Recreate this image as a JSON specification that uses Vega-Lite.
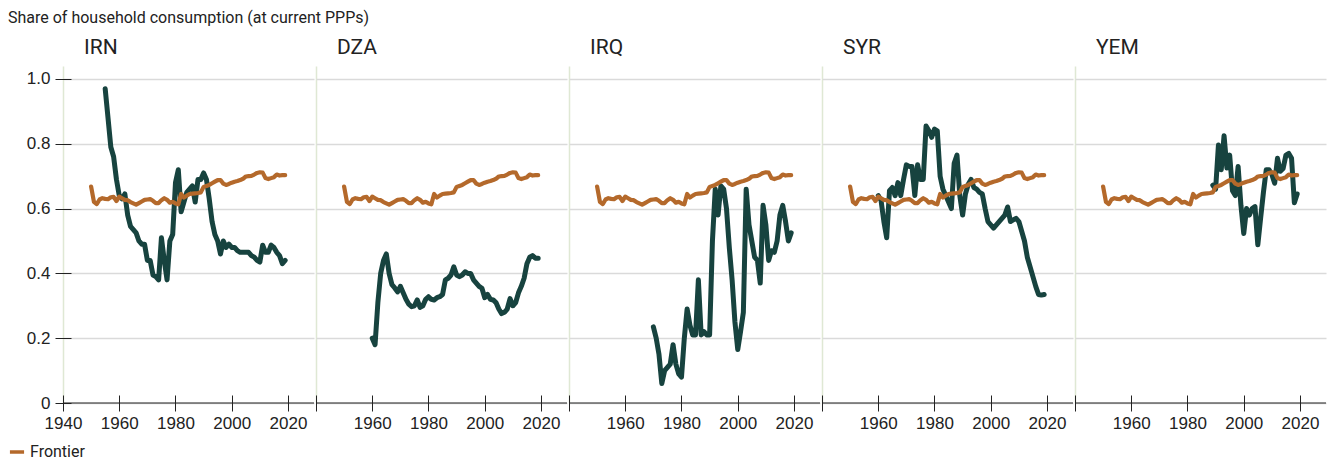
{
  "$schema": "https://vega.github.io/schema/vega-lite/v6.json",
  "background": "white",
  "padding": {"left": 8, "top": 10, "right": 0, "bottom": 0},
  "title": {"text": "Share of household consumption (at current PPPs)", "anchor": "start", "frame": "bounds", "font": "Roboto", "fontSize": 16, "fontWeight": "normal", "color": "#222", "dx": 0, "offset": -2, "baseline": "alphabetic"},
  "datasets": {
    "frontier": [
      {"year":1950,"v":0.668},{"year":1951,"v":0.621},{"year":1952,"v":0.614},{"year":1953,"v":0.628},{"year":1954,"v":0.632},
      {"year":1955,"v":0.630},{"year":1956,"v":0.629},{"year":1957,"v":0.635},{"year":1958,"v":0.636},{"year":1959,"v":0.623},
      {"year":1960,"v":0.637},{"year":1961,"v":0.632},{"year":1962,"v":0.627},{"year":1963,"v":0.626},{"year":1964,"v":0.620},
      {"year":1965,"v":0.616},{"year":1966,"v":0.612},{"year":1967,"v":0.617},{"year":1968,"v":0.622},{"year":1969,"v":0.627},
      {"year":1970,"v":0.628},{"year":1971,"v":0.629},{"year":1972,"v":0.624},{"year":1973,"v":0.617},{"year":1974,"v":0.617},
      {"year":1975,"v":0.626},{"year":1976,"v":0.632},{"year":1977,"v":0.627},{"year":1978,"v":0.618},{"year":1979,"v":0.621},
      {"year":1980,"v":0.616},{"year":1981,"v":0.613},{"year":1982,"v":0.645},{"year":1983,"v":0.634},{"year":1984,"v":0.640},
      {"year":1985,"v":0.645},{"year":1986,"v":0.646},{"year":1987,"v":0.647},{"year":1988,"v":0.648},{"year":1989,"v":0.650},
      {"year":1990,"v":0.667},{"year":1991,"v":0.670},{"year":1992,"v":0.673},{"year":1993,"v":0.678},{"year":1994,"v":0.683},
      {"year":1995,"v":0.688},{"year":1996,"v":0.688},{"year":1997,"v":0.677},{"year":1998,"v":0.673},{"year":1999,"v":0.676},
      {"year":2000,"v":0.680},{"year":2001,"v":0.683},{"year":2002,"v":0.685},{"year":2003,"v":0.688},{"year":2004,"v":0.692},
      {"year":2005,"v":0.699},{"year":2006,"v":0.700},{"year":2007,"v":0.701},{"year":2008,"v":0.705},{"year":2009,"v":0.710},
      {"year":2010,"v":0.712},{"year":2011,"v":0.711},{"year":2012,"v":0.694},{"year":2013,"v":0.691},{"year":2014,"v":0.694},
      {"year":2015,"v":0.697},{"year":2016,"v":0.705},{"year":2017,"v":0.702},{"year":2018,"v":0.703},{"year":2019,"v":0.703}
    ],
    "country": [
      {"c":"IRN","year":1955,"v":0.97},{"c":"IRN","year":1956,"v":0.88},{"c":"IRN","year":1957,"v":0.79},{"c":"IRN","year":1958,"v":0.76},{"c":"IRN","year":1959,"v":0.69},
      {"c":"IRN","year":1960,"v":0.64},{"c":"IRN","year":1961,"v":0.63},{"c":"IRN","year":1962,"v":0.645},{"c":"IRN","year":1963,"v":0.58},{"c":"IRN","year":1964,"v":0.545},
      {"c":"IRN","year":1965,"v":0.535},{"c":"IRN","year":1966,"v":0.525},{"c":"IRN","year":1967,"v":0.50},{"c":"IRN","year":1968,"v":0.49},{"c":"IRN","year":1969,"v":0.49},
      {"c":"IRN","year":1970,"v":0.44},{"c":"IRN","year":1971,"v":0.44},{"c":"IRN","year":1972,"v":0.395},{"c":"IRN","year":1973,"v":0.39},{"c":"IRN","year":1974,"v":0.38},
      {"c":"IRN","year":1975,"v":0.51},{"c":"IRN","year":1976,"v":0.44},{"c":"IRN","year":1977,"v":0.38},{"c":"IRN","year":1978,"v":0.50},{"c":"IRN","year":1979,"v":0.52},
      {"c":"IRN","year":1980,"v":0.68},{"c":"IRN","year":1981,"v":0.72},{"c":"IRN","year":1982,"v":0.59},{"c":"IRN","year":1983,"v":0.62},{"c":"IRN","year":1984,"v":0.65},
      {"c":"IRN","year":1985,"v":0.66},{"c":"IRN","year":1986,"v":0.67},{"c":"IRN","year":1987,"v":0.62},{"c":"IRN","year":1988,"v":0.69},{"c":"IRN","year":1989,"v":0.69},
      {"c":"IRN","year":1990,"v":0.71},{"c":"IRN","year":1991,"v":0.69},{"c":"IRN","year":1992,"v":0.63},{"c":"IRN","year":1993,"v":0.56},{"c":"IRN","year":1994,"v":0.52},
      {"c":"IRN","year":1995,"v":0.50},{"c":"IRN","year":1996,"v":0.46},{"c":"IRN","year":1997,"v":0.50},{"c":"IRN","year":1998,"v":0.48},{"c":"IRN","year":1999,"v":0.49},
      {"c":"IRN","year":2000,"v":0.48},{"c":"IRN","year":2001,"v":0.48},{"c":"IRN","year":2002,"v":0.47},{"c":"IRN","year":2003,"v":0.465},{"c":"IRN","year":2004,"v":0.465},
      {"c":"IRN","year":2005,"v":0.465},{"c":"IRN","year":2006,"v":0.465},{"c":"IRN","year":2007,"v":0.455},{"c":"IRN","year":2008,"v":0.45},{"c":"IRN","year":2009,"v":0.44},
      {"c":"IRN","year":2010,"v":0.435},{"c":"IRN","year":2011,"v":0.487},{"c":"IRN","year":2012,"v":0.465},{"c":"IRN","year":2013,"v":0.465},{"c":"IRN","year":2014,"v":0.487},
      {"c":"IRN","year":2015,"v":0.48},{"c":"IRN","year":2016,"v":0.465},{"c":"IRN","year":2017,"v":0.455},{"c":"IRN","year":2018,"v":0.43},{"c":"IRN","year":2019,"v":0.44},

      {"c":"DZA","year":1960,"v":0.20},{"c":"DZA","year":1961,"v":0.18},{"c":"DZA","year":1962,"v":0.31},{"c":"DZA","year":1963,"v":0.40},{"c":"DZA","year":1964,"v":0.44},
      {"c":"DZA","year":1965,"v":0.46},{"c":"DZA","year":1966,"v":0.40},{"c":"DZA","year":1967,"v":0.365},{"c":"DZA","year":1968,"v":0.355},{"c":"DZA","year":1969,"v":0.343},
      {"c":"DZA","year":1970,"v":0.36},{"c":"DZA","year":1971,"v":0.34},{"c":"DZA","year":1972,"v":0.32},{"c":"DZA","year":1973,"v":0.305},{"c":"DZA","year":1974,"v":0.297},
      {"c":"DZA","year":1975,"v":0.30},{"c":"DZA","year":1976,"v":0.318},{"c":"DZA","year":1977,"v":0.295},{"c":"DZA","year":1978,"v":0.30},{"c":"DZA","year":1979,"v":0.32},
      {"c":"DZA","year":1980,"v":0.328},{"c":"DZA","year":1981,"v":0.32},{"c":"DZA","year":1982,"v":0.318},{"c":"DZA","year":1983,"v":0.325},{"c":"DZA","year":1984,"v":0.328},
      {"c":"DZA","year":1985,"v":0.335},{"c":"DZA","year":1986,"v":0.38},{"c":"DZA","year":1987,"v":0.385},{"c":"DZA","year":1988,"v":0.395},{"c":"DZA","year":1989,"v":0.42},
      {"c":"DZA","year":1990,"v":0.395},{"c":"DZA","year":1991,"v":0.39},{"c":"DZA","year":1992,"v":0.395},{"c":"DZA","year":1993,"v":0.405},{"c":"DZA","year":1994,"v":0.40},
      {"c":"DZA","year":1995,"v":0.40},{"c":"DZA","year":1996,"v":0.38},{"c":"DZA","year":1997,"v":0.37},{"c":"DZA","year":1998,"v":0.36},{"c":"DZA","year":1999,"v":0.354},
      {"c":"DZA","year":2000,"v":0.325},{"c":"DZA","year":2001,"v":0.335},{"c":"DZA","year":2002,"v":0.32},{"c":"DZA","year":2003,"v":0.318},{"c":"DZA","year":2004,"v":0.31},
      {"c":"DZA","year":2005,"v":0.29},{"c":"DZA","year":2006,"v":0.276},{"c":"DZA","year":2007,"v":0.28},{"c":"DZA","year":2008,"v":0.29},{"c":"DZA","year":2009,"v":0.322},
      {"c":"DZA","year":2010,"v":0.30},{"c":"DZA","year":2011,"v":0.31},{"c":"DZA","year":2012,"v":0.34},{"c":"DZA","year":2013,"v":0.36},{"c":"DZA","year":2014,"v":0.385},
      {"c":"DZA","year":2015,"v":0.43},{"c":"DZA","year":2016,"v":0.45},{"c":"DZA","year":2017,"v":0.455},{"c":"DZA","year":2018,"v":0.447},{"c":"DZA","year":2019,"v":0.447},

      {"c":"IRQ","year":1970,"v":0.235},{"c":"IRQ","year":1971,"v":0.20},{"c":"IRQ","year":1972,"v":0.15},{"c":"IRQ","year":1973,"v":0.06},{"c":"IRQ","year":1974,"v":0.10},
      {"c":"IRQ","year":1975,"v":0.11},{"c":"IRQ","year":1976,"v":0.12},{"c":"IRQ","year":1977,"v":0.18},{"c":"IRQ","year":1978,"v":0.12},{"c":"IRQ","year":1979,"v":0.09},
      {"c":"IRQ","year":1980,"v":0.08},{"c":"IRQ","year":1981,"v":0.20},{"c":"IRQ","year":1982,"v":0.29},{"c":"IRQ","year":1983,"v":0.24},{"c":"IRQ","year":1984,"v":0.21},
      {"c":"IRQ","year":1985,"v":0.21},{"c":"IRQ","year":1986,"v":0.38},{"c":"IRQ","year":1987,"v":0.21},{"c":"IRQ","year":1988,"v":0.22},{"c":"IRQ","year":1989,"v":0.21},
      {"c":"IRQ","year":1990,"v":0.21},{"c":"IRQ","year":1991,"v":0.50},{"c":"IRQ","year":1992,"v":0.66},{"c":"IRQ","year":1993,"v":0.58},{"c":"IRQ","year":1994,"v":0.67},
      {"c":"IRQ","year":1995,"v":0.66},{"c":"IRQ","year":1996,"v":0.60},{"c":"IRQ","year":1997,"v":0.48},{"c":"IRQ","year":1998,"v":0.38},{"c":"IRQ","year":1999,"v":0.25},
      {"c":"IRQ","year":2000,"v":0.165},{"c":"IRQ","year":2001,"v":0.22},{"c":"IRQ","year":2002,"v":0.28},{"c":"IRQ","year":2003,"v":0.66},{"c":"IRQ","year":2004,"v":0.55},
      {"c":"IRQ","year":2005,"v":0.50},{"c":"IRQ","year":2006,"v":0.45},{"c":"IRQ","year":2007,"v":0.44},{"c":"IRQ","year":2008,"v":0.37},{"c":"IRQ","year":2009,"v":0.61},
      {"c":"IRQ","year":2010,"v":0.55},{"c":"IRQ","year":2011,"v":0.44},{"c":"IRQ","year":2012,"v":0.47},{"c":"IRQ","year":2013,"v":0.465},{"c":"IRQ","year":2014,"v":0.50},
      {"c":"IRQ","year":2015,"v":0.58},{"c":"IRQ","year":2016,"v":0.61},{"c":"IRQ","year":2017,"v":0.56},{"c":"IRQ","year":2018,"v":0.50},{"c":"IRQ","year":2019,"v":0.525},

      {"c":"SYR","year":1960,"v":0.64},{"c":"SYR","year":1961,"v":0.625},{"c":"SYR","year":1962,"v":0.56},{"c":"SYR","year":1963,"v":0.51},{"c":"SYR","year":1964,"v":0.655},
      {"c":"SYR","year":1965,"v":0.665},{"c":"SYR","year":1966,"v":0.64},{"c":"SYR","year":1967,"v":0.68},{"c":"SYR","year":1968,"v":0.64},{"c":"SYR","year":1969,"v":0.69},
      {"c":"SYR","year":1970,"v":0.735},{"c":"SYR","year":1971,"v":0.73},{"c":"SYR","year":1972,"v":0.73},{"c":"SYR","year":1973,"v":0.64},{"c":"SYR","year":1974,"v":0.735},
      {"c":"SYR","year":1975,"v":0.69},{"c":"SYR","year":1976,"v":0.69},{"c":"SYR","year":1977,"v":0.855},{"c":"SYR","year":1978,"v":0.84},{"c":"SYR","year":1979,"v":0.82},
      {"c":"SYR","year":1980,"v":0.845},{"c":"SYR","year":1981,"v":0.84},{"c":"SYR","year":1982,"v":0.70},{"c":"SYR","year":1983,"v":0.66},{"c":"SYR","year":1984,"v":0.64},
      {"c":"SYR","year":1985,"v":0.62},{"c":"SYR","year":1986,"v":0.60},{"c":"SYR","year":1987,"v":0.74},{"c":"SYR","year":1988,"v":0.765},{"c":"SYR","year":1989,"v":0.64},
      {"c":"SYR","year":1990,"v":0.58},{"c":"SYR","year":1991,"v":0.645},{"c":"SYR","year":1992,"v":0.675},{"c":"SYR","year":1993,"v":0.69},{"c":"SYR","year":1994,"v":0.665},
      {"c":"SYR","year":1995,"v":0.66},{"c":"SYR","year":1996,"v":0.65},{"c":"SYR","year":1997,"v":0.645},{"c":"SYR","year":1998,"v":0.60},{"c":"SYR","year":1999,"v":0.56},
      {"c":"SYR","year":2000,"v":0.55},{"c":"SYR","year":2001,"v":0.54},{"c":"SYR","year":2002,"v":0.55},{"c":"SYR","year":2003,"v":0.56},{"c":"SYR","year":2004,"v":0.57},
      {"c":"SYR","year":2005,"v":0.58},{"c":"SYR","year":2006,"v":0.605},{"c":"SYR","year":2007,"v":0.56},{"c":"SYR","year":2008,"v":0.565},{"c":"SYR","year":2009,"v":0.57},
      {"c":"SYR","year":2010,"v":0.56},{"c":"SYR","year":2011,"v":0.53},{"c":"SYR","year":2012,"v":0.50},{"c":"SYR","year":2013,"v":0.45},{"c":"SYR","year":2014,"v":0.42},
      {"c":"SYR","year":2015,"v":0.39},{"c":"SYR","year":2016,"v":0.36},{"c":"SYR","year":2017,"v":0.335},{"c":"SYR","year":2018,"v":0.333},{"c":"SYR","year":2019,"v":0.335},

      {"c":"YEM","year":1989,"v":0.672},{"c":"YEM","year":1990,"v":0.66},{"c":"YEM","year":1991,"v":0.796},{"c":"YEM","year":1992,"v":0.72},{"c":"YEM","year":1993,"v":0.825},
      {"c":"YEM","year":1994,"v":0.725},{"c":"YEM","year":1995,"v":0.765},{"c":"YEM","year":1996,"v":0.655},{"c":"YEM","year":1997,"v":0.64},{"c":"YEM","year":1998,"v":0.73},
      {"c":"YEM","year":1999,"v":0.61},{"c":"YEM","year":2000,"v":0.523},{"c":"YEM","year":2001,"v":0.60},{"c":"YEM","year":2002,"v":0.58},{"c":"YEM","year":2003,"v":0.60},
      {"c":"YEM","year":2004,"v":0.606},{"c":"YEM","year":2005,"v":0.488},{"c":"YEM","year":2006,"v":0.57},{"c":"YEM","year":2007,"v":0.65},{"c":"YEM","year":2008,"v":0.72},
      {"c":"YEM","year":2009,"v":0.72},{"c":"YEM","year":2010,"v":0.705},{"c":"YEM","year":2011,"v":0.678},{"c":"YEM","year":2012,"v":0.755},{"c":"YEM","year":2013,"v":0.715},
      {"c":"YEM","year":2014,"v":0.724},{"c":"YEM","year":2015,"v":0.765},{"c":"YEM","year":2016,"v":0.77},{"c":"YEM","year":2017,"v":0.755},{"c":"YEM","year":2018,"v":0.618},
      {"c":"YEM","year":2019,"v":0.645}
    ]
  },
  "hconcat": [
    {
      "width": 251, "height": 337,
      "title": {"text": "IRN", "anchor": "start", "frame": "group", "dx": 21, "offset": -9, "baseline": "alphabetic", "font": "Roboto", "fontSize": 21, "fontWeight": "normal", "color": "#222"},
      "layer": [
        {"data": {"name": "country"}, "transform": [{"filter": "datum.c == 'IRN'"}],
         "mark": {"type": "line", "color": "#17433f", "strokeWidth": 5, "strokeJoin": "round", "strokeCap": "round"},
         "encoding": {
           "x": {"field": "year", "type": "quantitative", "scale": {"domain": [1940, 2029.25], "nice": false, "zero": false},
                 "axis": {"values": [1940, 1960, 1980, 2000, 2020], "format": "d", "labelOverlap": false, "labelFlush": false, "title": null, "offset": -8, "tickSize": 16, "tickColor": "#222", "domain": false, "labelFont": "Liberation Sans", "labelFontSize": 17, "labelColor": "#222", "labelPadding": 4, "grid": true, "gridWidth": 1.5, "gridColor": {"condition": {"test": "datum.value == 1940", "value": "#dfe8d4"}, "value": "transparent"}}},
           "y": {"field": "v", "type": "quantitative", "scale": {"domain": [0, 1.04], "nice": false},
                 "axis": {"values": [0, 0.2, 0.4, 0.6, 0.8, 1.0], "labelExpr": "datum.value == 0 ? '0' : format(datum.value, '.1f')", "labelOverlap": false, "labelFlush": false, "title": null, "offset": -8, "tickSize": 16, "tickColor": "#222", "domain": false, "labelFont": "Liberation Sans", "labelFontSize": 17, "labelColor": "#222", "labelPadding": 5, "grid": true, "gridColor": "#dadada", "gridWidth": 1.3}}
         }},
        {"data": {"name": "frontier"},
         "mark": {"type": "line", "strokeWidth": 4.2, "strokeJoin": "round", "strokeCap": "round"},
         "encoding": {
           "x": {"field": "year", "type": "quantitative"},
           "y": {"field": "v", "type": "quantitative"},
           "color": {"datum": "Frontier", "scale": {"domain": ["Frontier"], "range": ["#b4692b"]}, "legend": {"title": null, "orient": "none", "legendX": -55, "legendY": 377, "direction": "horizontal", "symbolType": "stroke", "symbolStrokeWidth": 3.5, "symbolSize": 200, "labelFont": "Roboto", "labelFontSize": 16, "labelColor": "#222", "labelOffset": 4}}
         }},
        {"data": {"values": [{}]}, "mark": {"type": "rule", "color": "#222", "strokeWidth": 1.2}, "encoding": {"y": {"datum": 0, "type": "quantitative"}}}
      ]
    },
    {
      "width": 251, "height": 337,
      "title": {"text": "DZA", "anchor": "start", "frame": "group", "dx": 21, "offset": -9, "baseline": "alphabetic", "font": "Roboto", "fontSize": 21, "fontWeight": "normal", "color": "#222"},
      "layer": [
        {"data": {"name": "country"}, "transform": [{"filter": "datum.c == 'DZA'"}],
         "mark": {"type": "line", "color": "#17433f", "strokeWidth": 5, "strokeJoin": "round", "strokeCap": "round"},
         "encoding": {
           "x": {"field": "year", "type": "quantitative", "scale": {"domain": [1940, 2029.25], "nice": false, "zero": false},
                 "axis": {"values": [1940, 1960, 1980, 2000, 2020], "format": "d", "labelOverlap": false, "labelFlush": false, "labelExpr": "datum.value == 1940 ? '' : datum.label", "title": null, "offset": -8, "tickSize": 16, "tickColor": "#222", "domain": false, "labelFont": "Liberation Sans", "labelFontSize": 17, "labelColor": "#222", "labelPadding": 4, "grid": true, "gridWidth": 1.5, "gridColor": {"condition": {"test": "datum.value == 1940", "value": "#dfe8d4"}, "value": "transparent"}}},
           "y": {"field": "v", "type": "quantitative", "scale": {"domain": [0, 1.04], "nice": false},
                 "axis": {"values": [0, 0.2, 0.4, 0.6, 0.8, 1.0], "title": null, "labels": false, "ticks": false, "domain": false, "grid": true, "gridColor": "#dadada", "gridWidth": 1.3}}
         }},
        {"data": {"name": "frontier"},
         "mark": {"type": "line", "strokeWidth": 4.2, "strokeJoin": "round", "strokeCap": "round"},
         "encoding": {
           "x": {"field": "year", "type": "quantitative"},
           "y": {"field": "v", "type": "quantitative"},
           "color": {"datum": "Frontier"}
         }},
        {"data": {"values": [{}]}, "mark": {"type": "rule", "color": "#222", "strokeWidth": 1.2}, "encoding": {"y": {"datum": 0, "type": "quantitative"}}}
      ]
    },
    {
      "width": 251, "height": 337,
      "title": {"text": "IRQ", "anchor": "start", "frame": "group", "dx": 21, "offset": -9, "baseline": "alphabetic", "font": "Roboto", "fontSize": 21, "fontWeight": "normal", "color": "#222"},
      "layer": [
        {"data": {"name": "country"}, "transform": [{"filter": "datum.c == 'IRQ'"}],
         "mark": {"type": "line", "color": "#17433f", "strokeWidth": 5, "strokeJoin": "round", "strokeCap": "round"},
         "encoding": {
           "x": {"field": "year", "type": "quantitative", "scale": {"domain": [1940, 2029.25], "nice": false, "zero": false},
                 "axis": {"values": [1940, 1960, 1980, 2000, 2020], "format": "d", "labelOverlap": false, "labelFlush": false, "labelExpr": "datum.value == 1940 ? '' : datum.label", "title": null, "offset": -8, "tickSize": 16, "tickColor": "#222", "domain": false, "labelFont": "Liberation Sans", "labelFontSize": 17, "labelColor": "#222", "labelPadding": 4, "grid": true, "gridWidth": 1.5, "gridColor": {"condition": {"test": "datum.value == 1940", "value": "#dfe8d4"}, "value": "transparent"}}},
           "y": {"field": "v", "type": "quantitative", "scale": {"domain": [0, 1.04], "nice": false},
                 "axis": {"values": [0, 0.2, 0.4, 0.6, 0.8, 1.0], "title": null, "labels": false, "ticks": false, "domain": false, "grid": true, "gridColor": "#dadada", "gridWidth": 1.3}}
         }},
        {"data": {"name": "frontier"},
         "mark": {"type": "line", "strokeWidth": 4.2, "strokeJoin": "round", "strokeCap": "round"},
         "encoding": {
           "x": {"field": "year", "type": "quantitative"},
           "y": {"field": "v", "type": "quantitative"},
           "color": {"datum": "Frontier"}
         }},
        {"data": {"values": [{}]}, "mark": {"type": "rule", "color": "#222", "strokeWidth": 1.2}, "encoding": {"y": {"datum": 0, "type": "quantitative"}}}
      ]
    },
    {
      "width": 251, "height": 337,
      "title": {"text": "SYR", "anchor": "start", "frame": "group", "dx": 21, "offset": -9, "baseline": "alphabetic", "font": "Roboto", "fontSize": 21, "fontWeight": "normal", "color": "#222"},
      "layer": [
        {"data": {"name": "country"}, "transform": [{"filter": "datum.c == 'SYR'"}],
         "mark": {"type": "line", "color": "#17433f", "strokeWidth": 5, "strokeJoin": "round", "strokeCap": "round"},
         "encoding": {
           "x": {"field": "year", "type": "quantitative", "scale": {"domain": [1940, 2029.25], "nice": false, "zero": false},
                 "axis": {"values": [1940, 1960, 1980, 2000, 2020], "format": "d", "labelOverlap": false, "labelFlush": false, "labelExpr": "datum.value == 1940 ? '' : datum.label", "title": null, "offset": -8, "tickSize": 16, "tickColor": "#222", "domain": false, "labelFont": "Liberation Sans", "labelFontSize": 17, "labelColor": "#222", "labelPadding": 4, "grid": true, "gridWidth": 1.5, "gridColor": {"condition": {"test": "datum.value == 1940", "value": "#dfe8d4"}, "value": "transparent"}}},
           "y": {"field": "v", "type": "quantitative", "scale": {"domain": [0, 1.04], "nice": false},
                 "axis": {"values": [0, 0.2, 0.4, 0.6, 0.8, 1.0], "title": null, "labels": false, "ticks": false, "domain": false, "grid": true, "gridColor": "#dadada", "gridWidth": 1.3}}
         }},
        {"data": {"name": "frontier"},
         "mark": {"type": "line", "strokeWidth": 4.2, "strokeJoin": "round", "strokeCap": "round"},
         "encoding": {
           "x": {"field": "year", "type": "quantitative"},
           "y": {"field": "v", "type": "quantitative"},
           "color": {"datum": "Frontier"}
         }},
        {"data": {"values": [{}]}, "mark": {"type": "rule", "color": "#222", "strokeWidth": 1.2}, "encoding": {"y": {"datum": 0, "type": "quantitative"}}}
      ]
    },
    {
      "width": 251, "height": 337,
      "title": {"text": "YEM", "anchor": "start", "frame": "group", "dx": 21, "offset": -9, "baseline": "alphabetic", "font": "Roboto", "fontSize": 21, "fontWeight": "normal", "color": "#222"},
      "layer": [
        {"data": {"name": "country"}, "transform": [{"filter": "datum.c == 'YEM'"}],
         "mark": {"type": "line", "color": "#17433f", "strokeWidth": 5, "strokeJoin": "round", "strokeCap": "round"},
         "encoding": {
           "x": {"field": "year", "type": "quantitative", "scale": {"domain": [1940, 2029.25], "nice": false, "zero": false},
                 "axis": {"values": [1940, 1960, 1980, 2000, 2020], "format": "d", "labelOverlap": false, "labelFlush": false, "labelExpr": "datum.value == 1940 ? '' : datum.label", "title": null, "offset": -8, "tickSize": 16, "tickColor": "#222", "domain": false, "labelFont": "Liberation Sans", "labelFontSize": 17, "labelColor": "#222", "labelPadding": 4, "grid": true, "gridWidth": 1.5, "gridColor": {"condition": {"test": "datum.value == 1940", "value": "#dfe8d4"}, "value": "transparent"}}},
           "y": {"field": "v", "type": "quantitative", "scale": {"domain": [0, 1.04], "nice": false},
                 "axis": {"values": [0, 0.2, 0.4, 0.6, 0.8, 1.0], "title": null, "labels": false, "ticks": false, "domain": false, "grid": true, "gridColor": "#dadada", "gridWidth": 1.3}}
         }},
        {"data": {"name": "frontier"},
         "mark": {"type": "line", "strokeWidth": 4.2, "strokeJoin": "round", "strokeCap": "round"},
         "encoding": {
           "x": {"field": "year", "type": "quantitative"},
           "y": {"field": "v", "type": "quantitative"},
           "color": {"datum": "Frontier"}
         }},
        {"data": {"values": [{}]}, "mark": {"type": "rule", "color": "#222", "strokeWidth": 1.2}, "encoding": {"y": {"datum": 0, "type": "quantitative"}}}
      ]
    }
  ],
  "config": {
    "view": {"stroke": null},
    "concat": {"spacing": 0}
  }
}
